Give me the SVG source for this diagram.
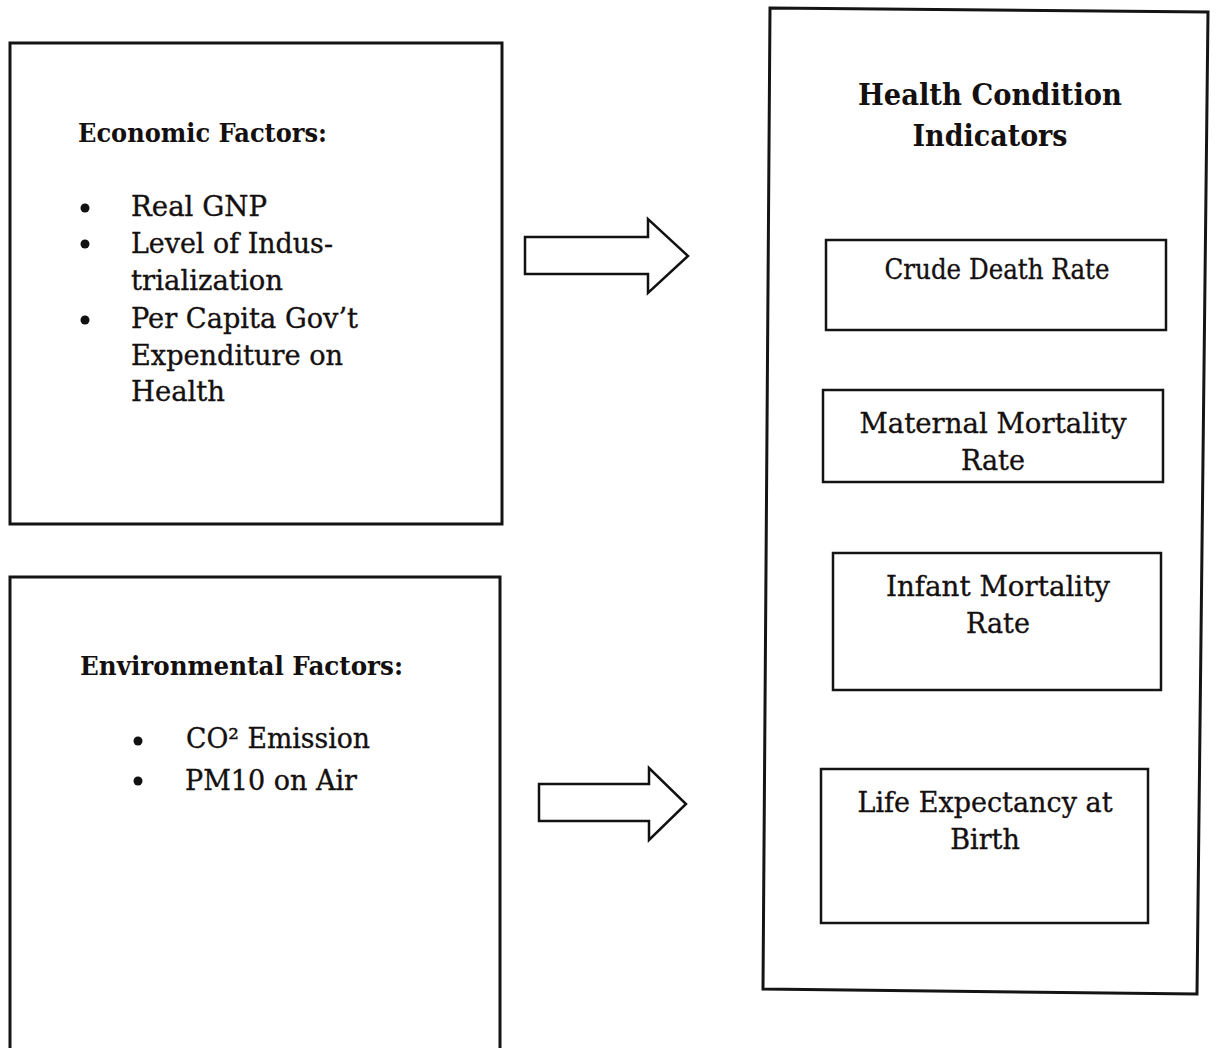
<svg xmlns="http://www.w3.org/2000/svg" width="1217" height="1048" viewBox="0 0 1217 1048">
<style>
.box{fill:#fff;stroke:#141414;stroke-width:3}
.ibox{fill:#fff;stroke:#141414;stroke-width:2.5}
.arrow{fill:#fff;stroke:#111;stroke-width:2.5;stroke-linejoin:miter}
.t{font-family:"DejaVu Serif","Liberation Serif",serif;font-size:27px;fill:#151010;stroke:#151010;stroke-width:0.35}
.h{font-family:"DejaVu Serif","Liberation Serif",serif;font-size:26px;font-weight:bold;fill:#151010}
.hh{font-family:"DejaVu Serif","Liberation Serif",serif;font-size:30px;font-weight:bold;fill:#151010}
.c{text-anchor:middle}
.dot{fill:#111}
</style>
<rect width="1217" height="1048" fill="#fff"/>
<g id="economic">
<rect class="box" x="10" y="43" width="492" height="481"/>
<text class="h" x="78" y="142" textLength="249" lengthAdjust="spacingAndGlyphs">Economic Factors:</text>
<circle class="dot" cx="85" cy="208" r="4.5"/>
<circle class="dot" cx="85" cy="244" r="4.5"/>
<circle class="dot" cx="85" cy="320" r="4.5"/>
<text class="t" x="131" y="216" textLength="136" lengthAdjust="spacingAndGlyphs">Real GNP</text>
<text class="t" x="131" y="253" textLength="202" lengthAdjust="spacingAndGlyphs">Level of Indus-</text>
<text class="t" x="131" y="290" textLength="152" lengthAdjust="spacingAndGlyphs">trialization</text>
<text class="t" x="131" y="328" textLength="227" lengthAdjust="spacingAndGlyphs">Per Capita Gov’t</text>
<text class="t" x="131" y="365" textLength="212" lengthAdjust="spacingAndGlyphs">Expenditure on</text>
<text class="t" x="131" y="401" textLength="94" lengthAdjust="spacingAndGlyphs">Health</text>
</g>
<g id="environmental">
<path class="box" d="M10,1060 V577 H500 V1060"/>
<text class="h" x="80" y="675" textLength="323" lengthAdjust="spacingAndGlyphs">Environmental Factors:</text>
<circle class="dot" cx="138" cy="741" r="4.5"/>
<circle class="dot" cx="138" cy="781" r="4.5"/>
<text class="t" x="186" y="748" textLength="184" lengthAdjust="spacingAndGlyphs">CO² Emission</text>
<text class="t" x="185" y="790" textLength="172" lengthAdjust="spacingAndGlyphs">PM10 on Air</text>
</g>
<g id="health">
<polygon class="box" points="770,8 1208,12 1197,994 763,989"/>
<text class="hh c" x="990" y="105" textLength="264" lengthAdjust="spacingAndGlyphs">Health Condition</text>
<text class="hh c" x="990" y="146" textLength="155" lengthAdjust="spacingAndGlyphs">Indicators</text>
</g>
<g id="crude">
<rect class="ibox" x="826" y="240" width="340" height="90"/>
<text class="t c" x="997" y="279" textLength="225" lengthAdjust="spacingAndGlyphs">Crude Death Rate</text>
</g>
<g id="maternal">
<rect class="ibox" x="823" y="390" width="340" height="92"/>
<text class="t c" x="993" y="433" textLength="267" lengthAdjust="spacingAndGlyphs">Maternal Mortality</text>
<text class="t c" x="993" y="470">Rate</text>
</g>
<g id="infant">
<rect class="ibox" x="833" y="553" width="328" height="137"/>
<text class="t c" x="998" y="596" textLength="224" lengthAdjust="spacingAndGlyphs">Infant Mortality</text>
<text class="t c" x="998" y="633">Rate</text>
</g>
<g id="life">
<rect class="ibox" x="821" y="769" width="327" height="154"/>
<text class="t c" x="985" y="812" textLength="255" lengthAdjust="spacingAndGlyphs">Life Expectancy at</text>
<text class="t c" x="985" y="849">Birth</text>
</g>
<g id="connectors">
<polygon class="arrow" points="525,237 648,237 648,219 688,256 648,293 648,274 525,274"/>
<polygon class="arrow" points="539,784 649,784 649,768 686,804 649,840 649,821 539,821"/>
</g>
</svg>
